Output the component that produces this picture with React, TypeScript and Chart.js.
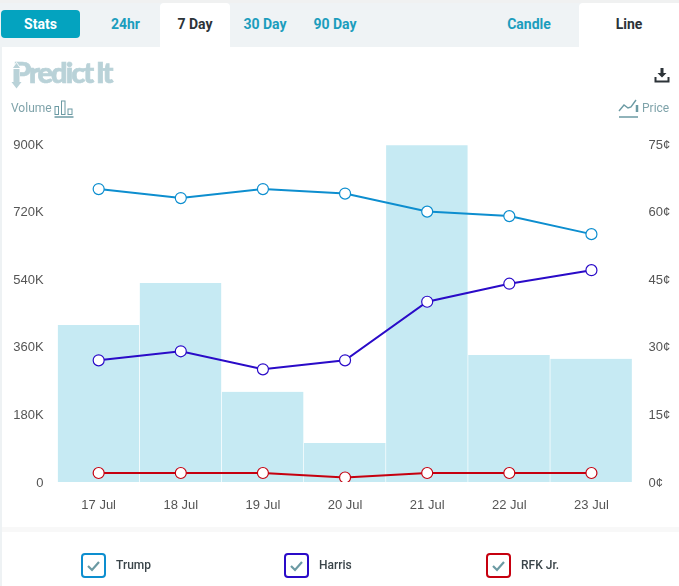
import React, { useRef, useEffect } from "react";
import Chart from "chart.js/auto";

const days = ["17 Jul", "18 Jul", "19 Jul", "20 Jul", "21 Jul", "22 Jul", "23 Jul"];
const volume = [418000, 530000, 240000, 104000, 897000, 338000, 328000];
const trump = [65, 63, 65, 64, 60, 59, 55];
const harris = [27, 29, 25, 27, 40, 44, 47];
const rfk = [2, 2, 2, 1, 2, 2, 2];
const rangeTabs = ["24hr", "7 Day", "30 Day", "90 Day"];
const legendItems = ["Trump", "Harris", "RFK Jr."];

const TRUMP_COLOR = "#0d8ecf";
const HARRIS_COLOR = "#2a0bc8";
const RFK_COLOR = "#c6000f";
const TEAL = "#1b9dbd";
const DARK = "#2c3338";
const ICON = "#6b9aa3";
const LOGO = "#b9d2d8";

const tickFont = { family: "'Liberation Sans', Arial, sans-serif", size: 13 };

const abs = (left: number, top: number, width: number, height: number): React.CSSProperties => ({
  position: "absolute",
  left,
  top,
  width,
  height,
});

const tabText = (color: string): React.CSSProperties => ({
  display: "flex",
  alignItems: "center",
  justifyContent: "center",
  fontFamily: "Roboto, sans-serif",
  fontWeight: 700,
  fontSize: 14,
  color,
});

const VolumeChart: React.FC = () => {
  const chartRef = useRef<HTMLCanvasElement>(null);

  useEffect(() => {
    if (!chartRef.current) return;
    const lineSet = (label: string, data: number[], color: string) => ({
      type: "line" as const,
      label,
      data,
      yAxisID: "price",
      borderColor: color,
      borderWidth: 2,
      tension: 0,
      pointRadius: 5.5,
      pointBorderWidth: 1.2,
      pointBackgroundColor: "#ffffff",
      pointBorderColor: color,
      order: 1,
    });
    const chart = new Chart(chartRef.current, {
      type: "bar",
      data: {
        labels: days,
        datasets: [
          lineSet("Trump", trump, TRUMP_COLOR),
          lineSet("Harris", harris, HARRIS_COLOR),
          lineSet("RFK Jr.", rfk, RFK_COLOR),
          {
            type: "bar" as const,
            label: "Volume",
            data: volume,
            yAxisID: "volume",
            backgroundColor: "#c6eaf3",
            borderColor: "#ffffff",
            borderWidth: { right: 1 },
            borderSkipped: false,
            barPercentage: 1,
            categoryPercentage: 1,
            order: 2,
          },
        ],
      },
      options: {
        responsive: false,
        animation: false,
        layout: { padding: { top: 144, bottom: 44 } },
        plugins: { legend: { display: false }, tooltip: { enabled: false } },
        scales: {
          x: {
            grid: { display: false },
            border: { display: false },
            ticks: { color: "#555555", font: tickFont, padding: 8, maxRotation: 0 },
            afterFit: (scale: any) => {
              scale.height = 60;
            },
          },
          volume: {
            position: "left",
            min: 0,
            max: 900000,
            grid: { display: false },
            border: { display: false },
            ticks: {
              stepSize: 180000,
              color: "#555555",
              font: tickFont,
              padding: 6,
              labelOffset: 1,
              callback: (v: any) => (v === 0 ? "0" : `${v / 1000}K`),
            },
            afterFit: (scale: any) => {
              scale.width = 57.6;
            },
          },
          price: {
            position: "right",
            min: 0,
            max: 75,
            grid: { display: false },
            border: { display: false },
            ticks: {
              stepSize: 15,
              color: "#555555",
              font: tickFont,
              padding: 8,
              labelOffset: 1,
              callback: (v: any) => `${v}¢`,
            },
            afterFit: (scale: any) => {
              scale.width = 46.5;
            },
          },
        },
      },
    });
    return () => chart.destroy();
  }, []);

  return <canvas ref={chartRef} width={679} height={586} style={{ ...abs(0, 0, 679, 586), display: "block" }} />;
};

const App: React.FC = () => {
  const tabLefts = [91, 160, 230, 300];
  const tabWidths = [69, 70, 70, 70];
  const boxLefts = [81, 284, 486];
  const labelLefts = [116, 319, 521];
  const boxColors = [TRUMP_COLOR, HARRIS_COLOR, RFK_COLOR];

  return (
    <div style={{ ...abs(0, 0, 679, 586), background: "#ffffff", overflow: "hidden" }}>
      <VolumeChart />

      {/* top tab strip */}
      <div style={{ ...abs(0, 0, 679, 47), background: "#eff3f5" }} />
      <div style={{ ...abs(0, 0, 679, 3), background: "#f0f1f1" }} />
      <div style={{ ...abs(1, 10, 79, 28), background: "#04a3bf", borderRadius: 4, ...tabText("#ffffff") }}>Stats</div>
      <div style={{ ...abs(160, 3, 70, 44), background: "#ffffff", borderRadius: "4px 4px 0 0" }} />
      {rangeTabs.map((t, i) => (
        <div key={t} style={{ ...abs(tabLefts[i], 2, tabWidths[i], 44), ...tabText(i === 1 ? DARK : TEAL) }}>
          {t}
        </div>
      ))}
      <div style={{ ...abs(579, 3, 100, 44), background: "#ffffff", borderRadius: "4px 0 0 0" }} />
      <div style={{ ...abs(579, 2, 100, 44), ...tabText(DARK) }}>Line</div>
      <div style={{ ...abs(479, 2, 100, 44), ...tabText(TEAL) }}>Candle</div>

      {/* logo */}
      <div
        style={{
          ...abs(13, 54, 110, 36),
          fontFamily: "Lato, sans-serif",
          fontWeight: 900,
          fontSize: 29,
          letterSpacing: -2,
          wordSpacing: -1,
          lineHeight: "36px",
          color: LOGO,
          WebkitTextStroke: `0.7px ${LOGO}`,
          whiteSpace: "nowrap",
        }}
      >
        Predict It
      </div>
      <svg style={abs(10, 60, 16, 30)} viewBox="0 0 16 30">
        <path d="M3 24 L3 9 L1 9 L6.5 2 L12 9 L10 9 L10 24 Z" fill="#ffffff" />
        <path d="M3.5 9 L3.5 22 L1.5 22 L6.5 28.5 L11.5 22 L9.5 22 L9.5 9 Z" fill={LOGO} />
        <path d="M6.5 3 L10 8 L3 8 Z" fill={LOGO} />
      </svg>

      {/* download icon */}
      <svg style={abs(654, 67, 16, 16)} viewBox="0 0 16 16">
        <path d="M6.5 1 H9.5 V6 H12.5 L8 10.5 L3.5 6 H6.5 Z" fill={DARK} />
        <path d="M1.5 10 V14.5 H14.5 V10" stroke={DARK} strokeWidth="2" fill="none" />
      </svg>

      {/* axis captions */}
      <div style={{ ...abs(11, 99, 42, 18), fontFamily: "Roboto, sans-serif", fontSize: 12, lineHeight: "18px", color: "#7fa3aa" }}>
        Volume
      </div>
      <svg style={abs(54, 100, 20, 18)} viewBox="0 0 20 18" fill="none" stroke={ICON} strokeWidth="1">
        <rect x="1" y="6.5" width="3.5" height="8" />
        <rect x="7.5" y="1" width="3.5" height="13.5" />
        <rect x="14" y="9" width="4" height="5.5" />
        <path d="M0.5 17 H19.5" strokeWidth="1.5" />
      </svg>
      <svg style={abs(618, 99, 22, 20)} viewBox="0 0 22 20" fill="none" stroke={ICON} strokeWidth="1.4">
        <path d="M1 12 L6 6 L10 9 L13 8 L18 1" />
        <path d="M1 18 H20" strokeWidth="1.5" />
        <path d="M19 6 V13" strokeWidth="2.5" />
      </svg>
      <div style={{ ...abs(642, 99, 34, 18), fontFamily: "Roboto, sans-serif", fontSize: 12, lineHeight: "18px", color: "#7fa3aa" }}>
        Price
      </div>

      {/* page edges and footer */}
      <div style={{ ...abs(0, 47, 2, 539), background: "#eef2f4" }} />
      <div style={{ ...abs(2, 527, 677, 5), background: "#f8f8f8" }} />

      {legendItems.map((name, i) => (
        <React.Fragment key={name}>
          <svg style={abs(boxLefts[i], 553, 25, 25)} viewBox="0 0 25 25">
            <rect x="1" y="1" width="23" height="23" rx="3" fill="#ffffff" stroke={boxColors[i]} strokeWidth="2" />
            <path d="M7 13 L11 17 L18 9" fill="none" stroke={ICON} strokeWidth="2.2" />
          </svg>
          <div
            style={{
              ...abs(labelLefts[i], 556, 70, 18),
              fontFamily: "Roboto, sans-serif",
              fontSize: 12,
              fontWeight: 500,
              lineHeight: "18px",
              color: "#3a4449",
            }}
          >
            {name}
          </div>
        </React.Fragment>
      ))}
    </div>
  );
};

export default App;
